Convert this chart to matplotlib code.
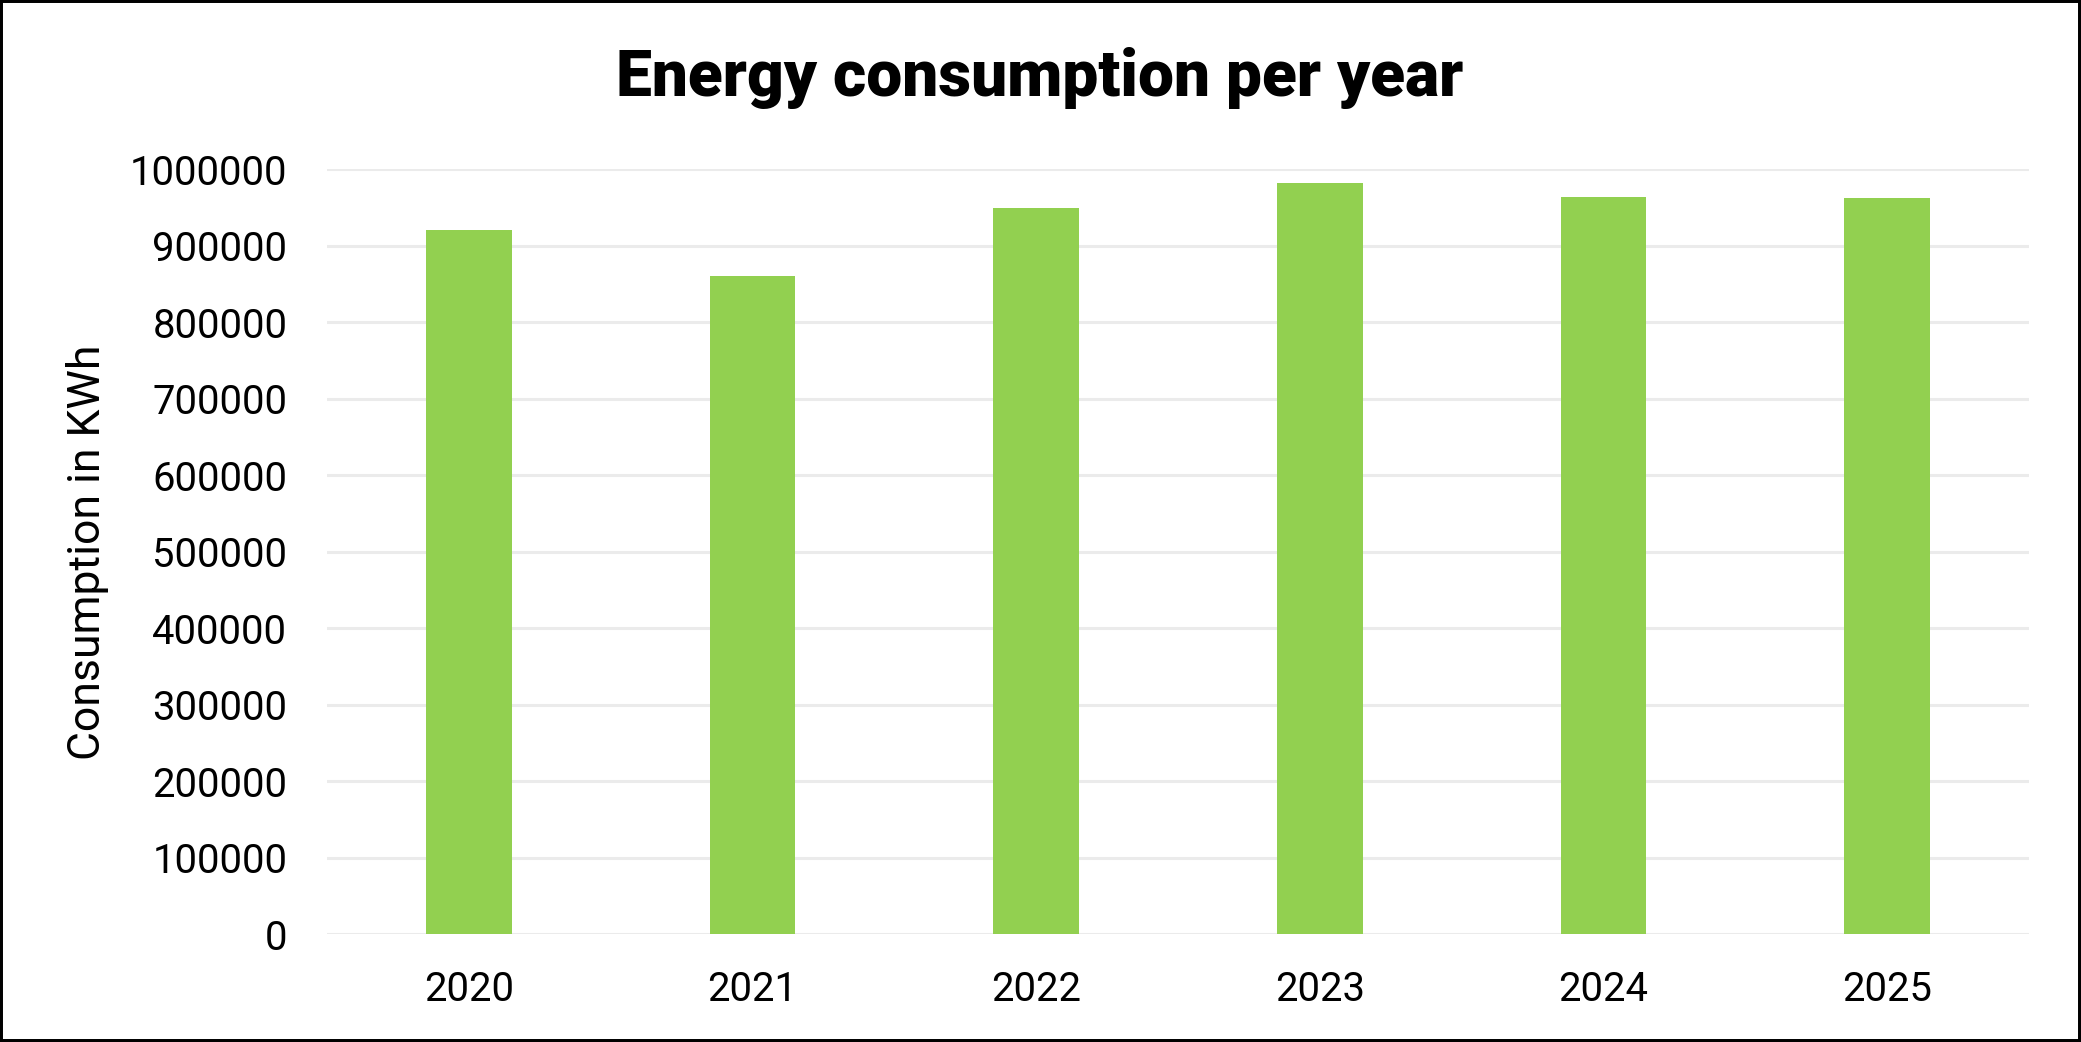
import matplotlib
matplotlib.use("Agg")
import matplotlib.pyplot as plt
from matplotlib.patches import Rectangle

years = ["2020", "2021", "2022", "2023", "2024", "2025"]
consumption = [920000, 860000, 950000, 982000, 964000, 962000]
yticks = [0, 100000, 200000, 300000, 400000, 500000, 600000, 700000, 800000, 900000, 1000000]

plt.rcParams['font.family'] = ['Roboto', 'DejaVu Sans']

W, H = 2081, 1042
fig = plt.figure(figsize=(W / 100, H / 100), dpi=100)
ax = fig.add_axes([327 / W, 1 - 934 / H, (2029 - 327) / W, (934 - 169.3) / H])

x = list(range(len(years)))
ax.bar(x, consumption, width=0.303, color="#92D050", zorder=3)
ax.set_xlim(-0.5, len(years) - 0.5)
ax.set_ylim(0, 1000000)
ax.set_yticks(yticks)
ax.set_yticklabels([str(v) for v in yticks])
ax.set_xticks(x)
ax.set_xticklabels(years)
ax.yaxis.grid(True, color="#EBEBEB", linewidth=2.2, zorder=0)
ax.set_axisbelow(True)
for s in ax.spines.values():
    s.set_visible(False)
ax.tick_params(axis='y', length=0, pad=28.5, labelsize=28.8, colors='black')
ax.tick_params(axis='x', length=0, pad=26, labelsize=28.8, colors='black')

fig.text(1040 / W, 1 - 78 / H, "Energy consumption per year", ha='center', va='center',
         fontsize=46.1, fontweight='black', color='black')
fig.text(88 / W, 1 - 552 / H, "Consumption in KWh", rotation=90, ha='center', va='center',
         fontsize=32, color='black')

fig.patches.append(Rectangle((0, 0), 1, 1, transform=fig.transFigure, fill=False,
                             edgecolor='black', linewidth=4.3, zorder=10))

fig.savefig("out.png", dpi=100, facecolor='white')
